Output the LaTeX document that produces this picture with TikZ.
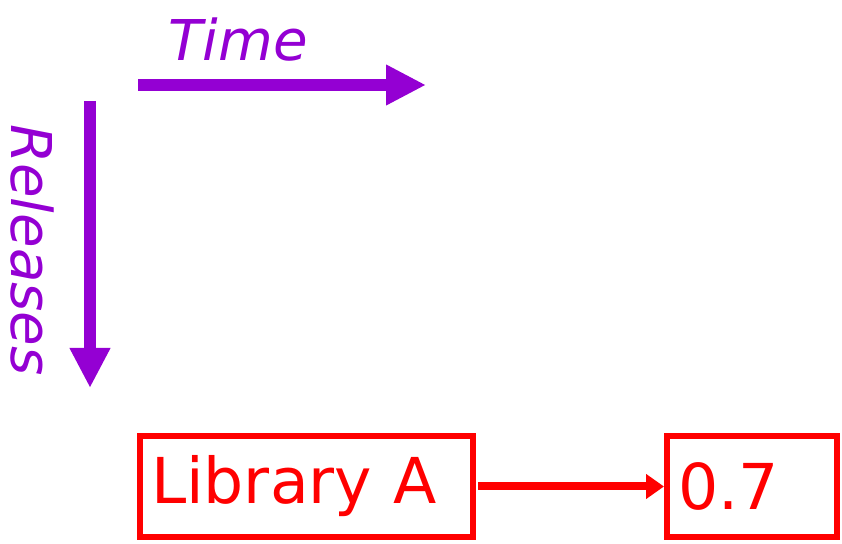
\documentclass[tikz,border=0pt]{standalone}
\usepackage{fontspec}
\setmainfont{DejaVu Sans}
\usepackage{tikz}
\usetikzlibrary{arrows.meta,positioning}

\definecolor{axispurple}{HTML}{9400D3}
\definecolor{boxred}{HTML}{FF0000}

\begin{document}
\begin{tikzpicture}[
    axis/.style={axispurple, line width=0.24cm, -{Triangle[length=0.8cm, width=0.76cm]}},
    axislabel/.style={axispurple, font=\fontsize{32}{36}\selectfont\itshape, inner sep=0pt},
    relbox/.style={draw=boxred, line width=0.12cm, text=boxred, minimum height=2.02cm, align=left, inner xsep=0.22cm, font=\fontsize{36}{40}\selectfont},
    arrow/.style={boxred, line width=0.16cm, -{Triangle[length=0.36cm, width=0.48cm]}}
]
\useasboundingbox (0,0) rectangle (16.84,10.86);

% Axes
\coordinate (tstart) at (2.76,9.16);
\coordinate (tend) at (8.52,9.16);
\coordinate (rstart) at (1.8,8.84);
\coordinate (rend) at (1.8,3.10);
\draw[axis] (tstart) -- (tend);
\draw[axis] (rstart) -- (rend);
\node[axislabel] (time) at (4.76,10.06) {Time};
\node[axislabel, rotate=-90] (rel) at (0.64,5.86) {Releases};

% Library and its release
\node[relbox, text width=6.22cm] (lib) at (6.13,1.13) {Library A};
\node[relbox, text width=2.96cm] (v07) at (15.04,1.13) {0.7};
\draw[arrow] ([xshift=0.04cm]lib.east) -- (v07.west);
\end{tikzpicture}
\end{document}
